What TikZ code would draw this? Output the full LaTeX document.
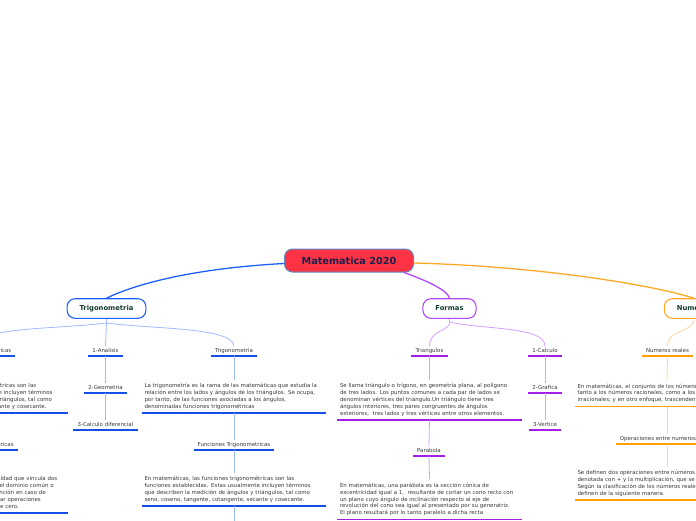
\documentclass[tikz,border=0pt]{standalone}
\usepackage{fontspec}
\setmainfont{DejaVu Sans}
\usepackage{xcolor}
\usepackage{tikz}
\usetikzlibrary{positioning}

\definecolor{rootred}{RGB}{255,51,68}
\definecolor{rootedge}{RGB}{90,140,200}
\definecolor{rootink}{RGB}{26,31,77}
\definecolor{mainink}{RGB}{20,60,45}
\definecolor{txtgray}{RGB}{55,55,55}
\definecolor{trigblue}{RGB}{30,95,255}
\definecolor{trigdark}{RGB}{20,80,230}
\definecolor{triglight}{RGB}{160,185,255}
\definecolor{formpurple}{RGB}{180,70,255}
\definecolor{formdark}{RGB}{165,30,230}
\definecolor{formlight}{RGB}{215,160,255}
\definecolor{numorange}{RGB}{255,168,40}
\definecolor{numdark}{RGB}{255,160,0}
\definecolor{numlight}{RGB}{255,215,155}

\newcommand{\smalltxt}{\fontsize{5.45}{6.8}\selectfont}

\begin{document}
\begin{tikzpicture}[x=1pt, y=-1pt,
    root/.style={rectangle, rounded corners=8pt, draw=rootedge, fill=rootred, line width=1pt, minimum width=129pt, minimum height=23pt, text=rootink, font=\fontsize{9.7}{11}\selectfont\bfseries},
    main/.style={rectangle, rounded corners=8pt, draw=#1, fill=white, line width=1.1pt, minimum height=19.6pt, inner xsep=12.5pt, text=mainink, font=\fontsize{6.8}{8}\selectfont\bfseries},
    topic/.style={font=\smalltxt, text=txtgray, inner xsep=4pt, inner ysep=2pt, text height=4pt, text depth=1.2pt, anchor=south,
        append after command={(\tikzlastnode.south west) edge[line width=1.6pt, draw=#1] (\tikzlastnode.south east)}},
    block/.style={font=\smalltxt, text=txtgray, text width=179pt, inner xsep=2.5pt, inner ysep=3.5pt, align=left, anchor=south,
        append after command={(\tikzlastnode.south west) edge[line width=1.6pt, draw=#1] (\tikzlastnode.south east)}},
    thin/.style={draw=#1, line width=0.8pt},
    thick/.style={draw=#1, line width=1.3pt}
]
    \useasboundingbox (0,0) rectangle (696,520);
    \clip (0,0) rectangle (696,520);

    % Root and main topics
    \node[root] (root) at (349,260.5) {Matematica 2020};
    \node[main=trigblue] (trig) at (106.5,308.5) {Trigonometria};
    \node[main=formpurple] (formas) at (449.5,308.5) {Formas};
    \node[main=numorange] (numeros) at (694,308.5) {Numeros};

    % Trigonometria branch
    \node[topic=trigdark] (funcL) at (-25,356) {Funciones Trigonometricas};
    \node[block=trigdark] (funcLtxt) at (-24,413) {En matemáticas, las funciones trigonométricas son las\\
        funciones establecidas. Estas usualmente incluyen términos\\
        que describen la medición de ángulos y triángulos, tal como\\
        seno, coseno, tangente, cotangente, secante y cosecante.};
    \node[topic=trigdark] (identL) at (-25,450) {Identidades Trigonométricas};
    \node[block=trigdark] (identtxt) at (-24,513) {Una identidad trigonométrica es una igualdad que vincula dos\\
        funciones trigonométricas y es válida en el dominio común o\\
        de ambas, o de cualquier valor de una función en caso de\\
        tratarse de una sola, y que permite realizar operaciones\\
        cuyo denominador sea siempre distinto de cero.};

    \node[topic=trigdark] (analisis) at (105.5,356) {1-Analisis};
    \node[topic=trigdark] (geometria) at (105.5,393) {2-Geometria};
    \node[topic=trigdark] (calcdif) at (105.5,430) {3-Calculo diferencial};

    \node[topic=trigdark] (trigsub) at (234,356) {Trigonometria};
    \node[block=trigdark] (trigtxt) at (234,413) {La trigonometría es la rama de las matemáticas que estudia la\\
        relación entre los lados y ángulos de los triángulos. Se ocupa,\\
        por tanto, de las funciones asociadas a los ángulos,\\
        denominadas funciones trigonométricas};
    \node[topic=trigdark] (functrig) at (234,450) {Funciones Trigonometricas};
    \node[block=trigdark] (functxt) at (234,506) {En matemáticas, las funciones trigonométricas son las\\
        funciones establecidas. Estas usualmente incluyen términos\\
        que describen la medición de ángulos y triángulos, tal como\\
        seno, coseno, tangente, cotangente, secante y cosecante.};
    \coordinate (trignext) at (234,530);

    % Formas branch
    \node[topic=formdark] (triang) at (429.5,356) {Triangulos};
    \node[block=formdark] (triangtxt) at (429.5,420) {Se llama triángulo o trígono, en geometría plana, al polígono\\
        de tres lados. Los puntos comunes a cada par de lados se\\
        denominan vértices del triángulo.Un triángulo tiene tres\\
        ángulos interiores, tres pares congruentes de ángulos\\
        exteriores,~ tres lados y tres vértices entre otros elementos.};
    \node[topic=formdark] (parabola) at (429,456) {Parabola};
    \node[block=formdark] (parabtxt) at (429.5,519.5) {En matemáticas, una parábola es la sección cónica de\\
        excentricidad igual a 1,~ resultante de cortar un cono recto con\\
        un plano cuyo ángulo de inclinación respecto al eje de\\
        revolución del cono sea igual al presentado por su generatriz.\\
        El plano resultará por lo tanto paralelo a dicha recta};

    \node[topic=formdark] (calc1) at (545,356) {1-Calculo};
    \node[topic=formdark] (graf2) at (545,393) {2-Grafica};
    \node[topic=formdark] (vert3) at (545,430) {3-Vertice};

    % Numeros branch
    \node[topic=numdark] (reales) at (667.5,356) {Numeros reales};
    \node[block=numdark] (realestxt) at (667,406.5) {En matemáticas, el conjunto de los números reales incluye\\
        tanto a los números racionales, como a los números\\
        irracionales; y en otro enfoque, trascendentes y algebraicos.};
    \node[topic=numdark] (operac) at (667,444) {Operaciones entre numeros reales};
    \node[block=numdark] (operactxt) at (667,500) {Se definen dos operaciones entre números reales: la suma,\\
        denotada con + y la multiplicación, que se denota con ·.\\
        Según la clasificación de los números reales, estos se\\
        definen de la siguiente manera.};

    % Connections from root
    \draw[thick=trigblue] ([yshift=-3pt]root.west) .. controls (200,268) and (140,282) .. (trig.north);
    \draw[thick=formpurple] ([xshift=-10pt]root.south east) .. controls (422,279) and (447,289) .. (formas.north);
    \draw[thick=numorange] ([yshift=-2.5pt]root.east) .. controls (530,266) and (645,283) .. (numeros.north);

    % Trigonometria connections
    \coordinate (trigfork) at (106.5,323);
    \draw[thin=triglight] (trig.south) -- (trigfork);
    \draw[thin=triglight] (trigfork) .. controls (60,329) and (-25,327) .. (funcL.north);
    \draw[thin=triglight] (trigfork) -- (analisis.north);
    \draw[thin=triglight] (trigfork) .. controls (150,329) and (234,327) .. (trigsub.north);
    \draw[thin=triglight] (analisis.south) -- (geometria.north);
    \draw[thin=triglight] (geometria.south) -- (calcdif.north);
    \draw[thin=triglight] (trigsub.south) -- (trigtxt.north);
    \draw[thin=triglight] (trigtxt.south) -- (functrig.north);
    \draw[thin=triglight] (functrig.south) -- (functxt.north);
    \draw[thin=triglight] (functxt.south) -- (trignext);
    \draw[thin=triglight] (funcL.south) -- (funcLtxt.north);
    \draw[thin=triglight] (funcLtxt.south) -- (identL.north);
    \draw[thin=triglight] (identL.south) -- (identtxt.north);

    % Formas connections
    \coordinate (formfork) at (449.5,322);
    \draw[thin=formlight] (formas.south) -- (formfork);
    \draw[thin=formlight] (formfork) .. controls (449.5,332) and (429.5,329) .. (triang.north);
    \draw[thin=formlight] (formfork) .. controls (485,330) and (545,326) .. (calc1.north);
    \draw[thin=formlight] (calc1.south) -- (graf2.north);
    \draw[thin=formlight] (graf2.south) -- (vert3.north);
    \draw[thin=formlight] (triang.south) -- (triangtxt.north);
    \draw[thin=formlight] (triangtxt.south) -- (parabola.north);
    \draw[thin=formlight] (parabola.south) -- (parabtxt.north);

    % Numeros connections
    \draw[thin=numlight] (numeros.south) .. controls (694,333) and (667.5,328) .. (reales.north);
    \draw[thin=numlight] (reales.south) -- (realestxt.north);
    \draw[thin=numlight] (realestxt.south) -- (operac.north);
    \draw[thin=numlight] (operac.south) -- (operactxt.north);
\end{tikzpicture}
\end{document}
